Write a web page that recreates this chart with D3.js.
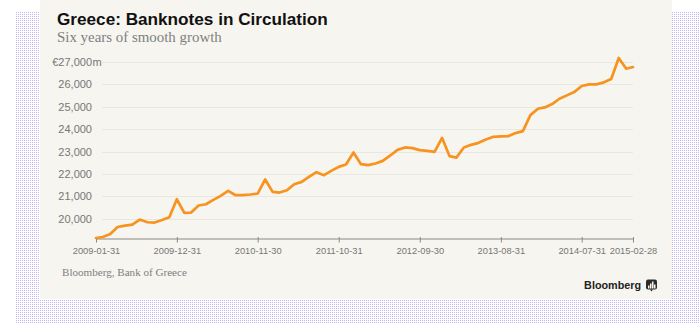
<!DOCTYPE html>
<html><head><meta charset="utf-8">
<script src="https://cdn.jsdelivr.net/npm/d3@7"></script>
<style>body{margin:0;background:#fff}svg{display:block}</style>
</head><body>
<svg id="c" width="700" height="332"></svg>
<script>
// ---- data ----
const startMonth = "2009-01-31";
const banknotes = [19153,19198,19331,19643,19705,19750,19973,19853,19840,19955,20076,20878,
  20267,20285,20597,20655,20847,21025,21248,21057,21057,21088,21132,21756,
  21204,21175,21280,21547,21650,21873,22082,21948,22140,22318,22425,22960,
  22439,22394,22470,22586,22826,23076,23183,23152,23063,23032,22987,23610,
  22795,22730,23183,23300,23389,23539,23656,23674,23687,23821,23910,24623,
  24904,24966,25114,25350,25501,25648,25916,25992,25992,26081,26228,27165,
  26688,26763];
const xTickLabels = ["2009-01-31","2009-12-31","2010-11-30","2011-10-31","2012-09-30","2013-08-31","2014-07-31","2015-02-28"];
const yTickValues = [20000,21000,22000,23000,24000,25000,26000,27000];
const titleText = "Greece: Banknotes in Circulation";
const subtitleText = "Six years of smooth growth";
const sourceText = "Bloomberg, Bank of Greece";
const brandText = "Bloomberg";

// ---- build ----
const parse = d3.timeParse("%Y-%m-%d");
const fmt = d3.format(",");
const start = parse(startMonth);
const series = banknotes.map((v,i)=>({date: d3.timeDay.offset(d3.timeMonth.offset(d3.timeMonth.offset(d3.timeMonth.floor(start),1), i), -1), value:v}));

const svg = d3.select("#c");
const defs = svg.append("defs");
const pat = defs.append("pattern").attr("id","dots").attr("width",2).attr("height",2).attr("patternUnits","userSpaceOnUse");
pat.append("rect").attr("width",1).attr("height",1).attr("fill","#bfb6fa");

svg.append("rect").attr("x",16).attr("y",12).attr("width",684).attr("height",311).attr("fill","url(#dots)");
svg.append("rect").attr("x",40).attr("y",0).attr("width",632).attr("height",299).attr("fill","#f6f5ef");

const x = d3.scaleTime().domain([parse(xTickLabels[0]), parse(xTickLabels[xTickLabels.length-1])]).range([96,633]);
const y = d3.scaleLinear().domain([19130,27000]).range([238.5,61.7]);

// gridlines
svg.append("g").selectAll("line").data(yTickValues).join("line")
  .attr("x1",102).attr("x2",633)
  .attr("y1",d=>Math.round(y(d))+0.5).attr("y2",d=>Math.round(y(d))+0.5)
  .attr("stroke","#e8e8e3").attr("stroke-width",1);

// y labels
const yl = svg.append("g").attr("font-family","Liberation Sans, Arial, sans-serif").attr("font-size",11).attr("fill","#777");
yTickValues.forEach((v,i)=>{
  const last = i===yTickValues.length-1;
  yl.append("text").attr("x",92).attr("y",y(v)).attr("dy","0.36em").attr("text-anchor","end")
    .text((last?"€":"")+fmt(v));
  if(last) yl.append("text").attr("x",92.5).attr("y",y(v)).attr("dy","0.36em").text("m");
});

// x axis
const xAxis = d3.axisBottom(x).tickValues(xTickLabels.map(parse)).tickFormat(d3.timeFormat("%Y-%m-%d")).tickSize(4).tickSizeOuter(0);
const gx = svg.append("g").attr("transform","translate(0,238.5)").call(xAxis);
gx.select(".domain").attr("stroke","#8a8a8a").attr("stroke-width",1.2);
gx.selectAll(".tick line").attr("stroke","#8a8a8a").attr("y1",-1.5);
gx.selectAll(".tick text").attr("fill","#777").attr("font-family","Liberation Sans, Arial, sans-serif").attr("font-size",9.3).attr("dy","0.95em");

// line
svg.append("path").datum(series)
  .attr("d", d3.line().x(d=>x(d.date)).y(d=>y(d.value)))
  .attr("fill","none").attr("stroke","#f7931e").attr("stroke-width",2.7)
  .attr("stroke-linejoin","round").attr("stroke-linecap","round");

// fit text helper
function fit(sel, target){
  const w = sel.node().getComputedTextLength();
  const fs = parseFloat(sel.attr("font-size"));
  sel.attr("font-size", fs*target/w);
}
const t = svg.append("text").attr("x",57).attr("y",25).attr("font-family","Liberation Sans, Arial, sans-serif")
  .attr("font-weight","bold").attr("font-size",17).attr("fill","#111").text(titleText);
fit(t,271);
const st = svg.append("text").attr("x",57).attr("y",42).attr("font-family","Liberation Serif, Georgia, serif")
  .attr("font-size",14).attr("fill","#808080").text(subtitleText);
fit(st,165);
const src = svg.append("text").attr("x",62).attr("y",276).attr("font-family","Liberation Serif, Georgia, serif")
  .attr("font-size",12).attr("fill","#808080").text(sourceText);
fit(src,125);
const br = svg.append("text").attr("x",641).attr("y",289).attr("text-anchor","end").attr("font-family","Liberation Sans, Arial, sans-serif")
  .attr("font-weight","bold").attr("font-size",13).attr("fill","#222").text(brandText);
fit(br,57);
// logo icon
const lg = svg.append("g").attr("transform","translate(646,279.5)");
lg.append("rect").attr("width",11).attr("height",10).attr("rx",2).attr("fill","#2b2b2b");
lg.append("path").attr("d","M4,10 L5.5,12 L7,10 Z").attr("fill","#2b2b2b");
[[2,6,1.5],[4,4,1.5],[6,2,1.5],[8,5,1.5]].forEach(b=>{
  lg.append("rect").attr("x",b[0]).attr("y",b[1]).attr("width",b[2]).attr("height",9-b[1]).attr("fill","#f6f5ef");
});
</script>
</body></html>
